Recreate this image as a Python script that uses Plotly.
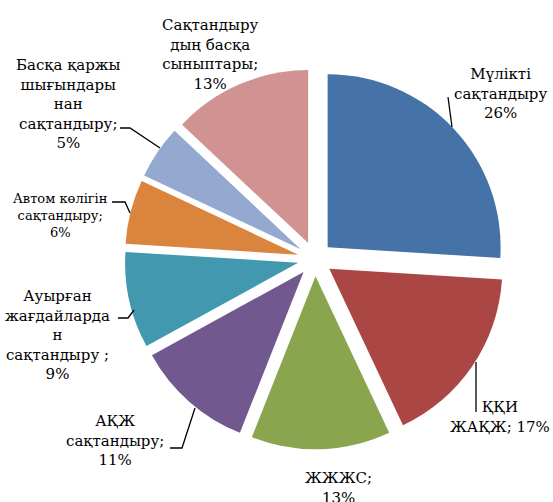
import plotly.graph_objects as go

categories = [
    "Мүлікті сақтандыру",
    "ҚҚИ ЖАҚЖ",
    "ЖЖЖС",
    "АҚЖ сақтандыру",
    "Ауырған жағдайлардан сақтандыру",
    "Автом көлігін сақтандыру",
    "Басқа қаржы шығындарынан сақтандыру",
    "Сақтандырудың басқа сыныптары",
]
values = [26, 17, 13, 11, 9, 6, 5, 13]
label_texts = [
    "Мүлікті<br>сақтандыру<br>26%",
    "ҚҚИ<br>ЖАҚЖ; 17%",
    "ЖЖЖС;<br>13%",
    "АҚЖ<br>сақтандыру;<br>11%",
    "Ауырған<br>жағдайларда<br>н<br>сақтандыру ;<br>9%",
    "Автом көлігін<br>сақтандыру;<br>6%",
    "Басқа қаржы<br>шығындары<br>нан<br>сақтандыру;<br>5%",
    "Сақтандыру<br>дың басқа<br>сыныптары;<br>13%",
]
colors = ["#4572A7", "#AA4643", "#89A54E", "#71588F",
          "#4198AF", "#DB843D", "#93A9CF", "#D19392"]

W, H = 553, 502
cx, cy, r, pull = 315, 259, 173, 0.1
half = r * (1 + pull)


def px(x, y):
    return x / W, 1 - y / H


fig = go.Figure(go.Pie(
    labels=categories, values=values, sort=False, direction="clockwise",
    rotation=0, pull=[pull] * len(values),
    marker=dict(colors=colors, line=dict(width=0)),
    textinfo="none", hoverinfo="label+percent", showlegend=False,
    domain=dict(x=[(cx - half) / W, (cx + half) / W],
                y=[1 - (cy + half) / H, 1 - (cy - half) / H]),
))

# label positions (pixel centres) and font sizes
label_pos = [(500, 93, 15), (500, 417, 15), (338, 488, 15), (115, 440, 15),
             (57, 335, 15), (60, 215, 13), (68, 104, 15), (210, 54, 15)]
font = "DejaVu Serif"
anns = []
for txt, (x, y, s) in zip(label_texts, label_pos):
    xp, yp = px(x, y)
    anns.append(dict(x=xp, y=yp, xref="paper", yref="paper", text=txt,
                     showarrow=False, xanchor="center", yanchor="middle",
                     font=dict(family=font, size=s, color="black")))

leaders = [
    [(448, 97), (452, 127)],
    [(476, 362), (476, 412)],
    [(195, 408), (182, 448), (170, 448)],
    [(134, 310), (128, 318), (118, 318)],
    [(130, 213), (125, 202), (112, 202)],
    [(160, 148), (130, 128), (120, 128)],
]
shapes = []
for pts in leaders:
    p = " ".join(("M" if i == 0 else "L") + f"{px(*q)[0]:.5f},{px(*q)[1]:.5f}"
                 for i, q in enumerate(pts))
    shapes.append(dict(type="path", xref="paper", yref="paper", path=p,
                       line=dict(color="black", width=1.3)))

fig.update_layout(width=W, height=H, margin=dict(l=0, r=0, t=0, b=0),
                  paper_bgcolor="white", plot_bgcolor="white",
                  font=dict(family=font),
                  annotations=anns, shapes=shapes)
fig.write_html("out.html", config={"displayModeBar": False},
               post_script="document.body.style.margin='0';"
                           "document.body.style.overflow='hidden';")
